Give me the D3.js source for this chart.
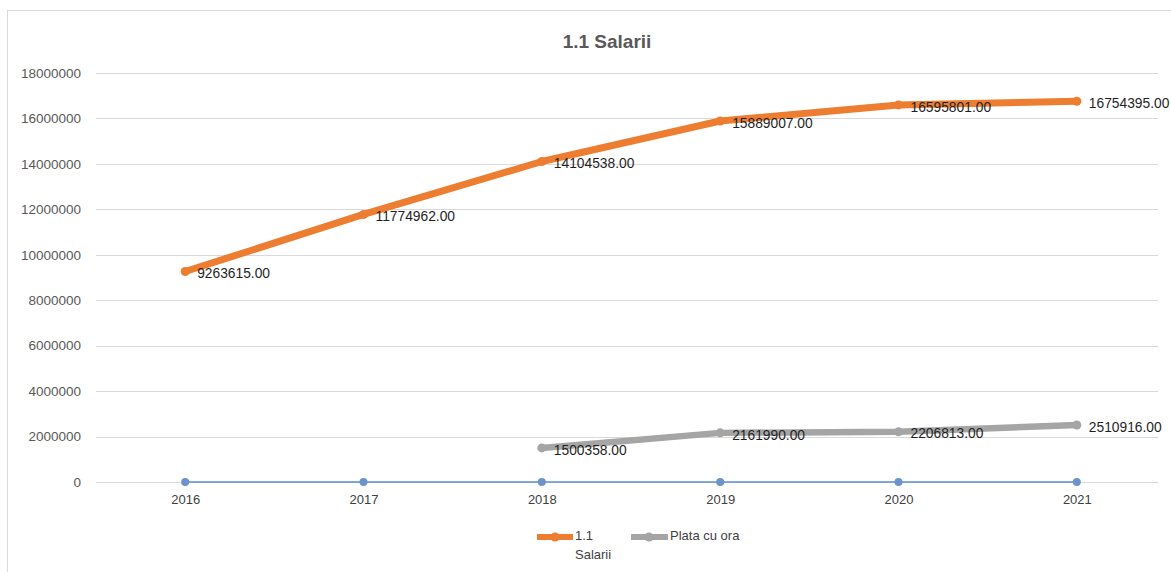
<!DOCTYPE html>
<html><head><meta charset="utf-8">
<script src="https://cdn.jsdelivr.net/npm/d3@7"></script>
<style>body{margin:0;background:#fff;} svg{display:block;}</style>
</head><body>
<svg id="c" width="1171" height="572"></svg>
<script>
const years = ['2016','2017','2018','2019','2020','2021'];
const salarii = [9263615, 11774962, 14104538, 15889007, 16595801, 16754395];
const plata = [null, null, 1500358, 2161990, 2206813, 2510916];
const zeroSeries = [0, 0, 0, 0, 0, 0];
const yTicks = [0, 2000000, 4000000, 6000000, 8000000, 10000000, 12000000, 14000000, 16000000, 18000000];
const titleText = '1.1 Salarii';

(function () {
const svg = d3.select('#c');
const font = "'Liberation Sans', Arial, sans-serif";
const W = 1171, H = 572;
const pLeft = 96, pRight = 1166, pTop = 73, pBottom = 482;

svg.append('rect').attr('x', 7.5).attr('y', 10.5).attr('width', W).attr('height', H)
  .attr('fill', '#fff').attr('stroke', '#d9d9d9');

const x = d3.scalePoint().domain(years).range([pLeft, pRight]).padding(0.5);
const y = d3.scaleLinear().domain([0, 18000000]).range([pBottom, pTop]);

svg.append('g').selectAll('line').data(yTicks).join('line')
  .attr('x1', pLeft).attr('x2', 1158)
  .attr('y1', d => Math.round(y(d)) + 0.5).attr('y2', d => Math.round(y(d)) + 0.5)
  .attr('stroke', '#d9d9d9').attr('stroke-width', 1);

const yAxis = d3.axisLeft(y).tickValues(yTicks).tickSize(0).tickPadding(0).tickFormat(d3.format('d'));
const gy = svg.append('g').attr('transform', 'translate(81,0)').call(yAxis);
gy.select('.domain').remove();
gy.selectAll('text').attr('font-family', font).attr('font-size', 13.5).attr('fill', '#595959');

const xAxis = d3.axisBottom(x).tickSize(0).tickPadding(0);
const gx = svg.append('g').attr('transform', 'translate(0,' + (pBottom + 13) + ')').call(xAxis);
gx.select('.domain').remove();
gx.selectAll('text').attr('font-family', font).attr('font-size', 13).attr('fill', '#404040');

svg.append('text').attr('x', 607).attr('y', 48).attr('text-anchor', 'middle')
  .attr('font-family', font).attr('font-size', 19).attr('font-weight', 'bold')
  .attr('fill', '#595959').text(titleText);

const line = d3.line().defined(d => d.v !== null).x(d => x(d.k)).y(d => y(d.v));
const mk = arr => years.map((k, i) => ({k, v: arr[i]}));

svg.append('path').datum(mk(zeroSeries)).attr('d', line).attr('fill', 'none')
  .attr('stroke', '#5b8fd0').attr('stroke-width', 1.5);
svg.append('g').selectAll('circle').data(mk(zeroSeries)).join('circle')
  .attr('cx', d => x(d.k)).attr('cy', d => y(d.v)).attr('r', 4).attr('fill', '#6b93cc');

svg.append('path').datum(mk(plata)).attr('d', line).attr('fill', 'none')
  .attr('stroke', '#a5a5a5').attr('stroke-width', 6.5).attr('stroke-linejoin', 'round');
svg.append('g').selectAll('circle').data(mk(plata).filter(d => d.v !== null)).join('circle')
  .attr('cx', d => x(d.k)).attr('cy', d => y(d.v)).attr('r', 4.5).attr('fill', '#a5a5a5');

svg.append('path').datum(mk(salarii)).attr('d', line).attr('fill', 'none')
  .attr('stroke', '#ed7d31').attr('stroke-width', 7).attr('stroke-linejoin', 'round');
svg.append('g').selectAll('circle').data(mk(salarii)).join('circle')
  .attr('cx', d => x(d.k)).attr('cy', d => y(d.v)).attr('r', 4.5).attr('fill', '#ed7d31');

const fmt = d => d.toFixed(2);
function labels(arr) {
  svg.append('g').selectAll('text').data(mk(arr).filter(d => d.v !== null)).join('text')
    .attr('x', d => x(d.k) + 12).attr('y', d => y(d.v) + 3)
    .attr('dominant-baseline', 'middle')
    .attr('font-family', font).attr('font-size', 13.8).attr('fill', '#1f1f1f')
    .text(d => fmt(d.v));
}
labels(salarii);
labels(plata);

const lg = svg.append('g');
lg.append('line').attr('x1', 537).attr('x2', 573).attr('y1', 537).attr('y2', 537)
  .attr('stroke', '#ed7d31').attr('stroke-width', 6);
lg.append('circle').attr('cx', 555).attr('cy', 537).attr('r', 4.5).attr('fill', '#ed7d31');
lg.append('text').attr('x', 575).attr('y', 537).attr('dominant-baseline', 'middle')
  .attr('font-family', font).attr('font-size', 13).attr('fill', '#404040').text('1.1');
lg.append('text').attr('x', 575).attr('y', 556).attr('dominant-baseline', 'middle')
  .attr('font-family', font).attr('font-size', 13).attr('fill', '#404040').text('Salarii');
lg.append('line').attr('x1', 631).attr('x2', 668).attr('y1', 537).attr('y2', 537)
  .attr('stroke', '#a5a5a5').attr('stroke-width', 6);
lg.append('circle').attr('cx', 649).attr('cy', 537).attr('r', 4.5).attr('fill', '#a5a5a5');
lg.append('text').attr('x', 670).attr('y', 537).attr('dominant-baseline', 'middle')
  .attr('font-family', font).attr('font-size', 13).attr('fill', '#404040').text('Plata cu ora');
})();
</script>
</body></html>
